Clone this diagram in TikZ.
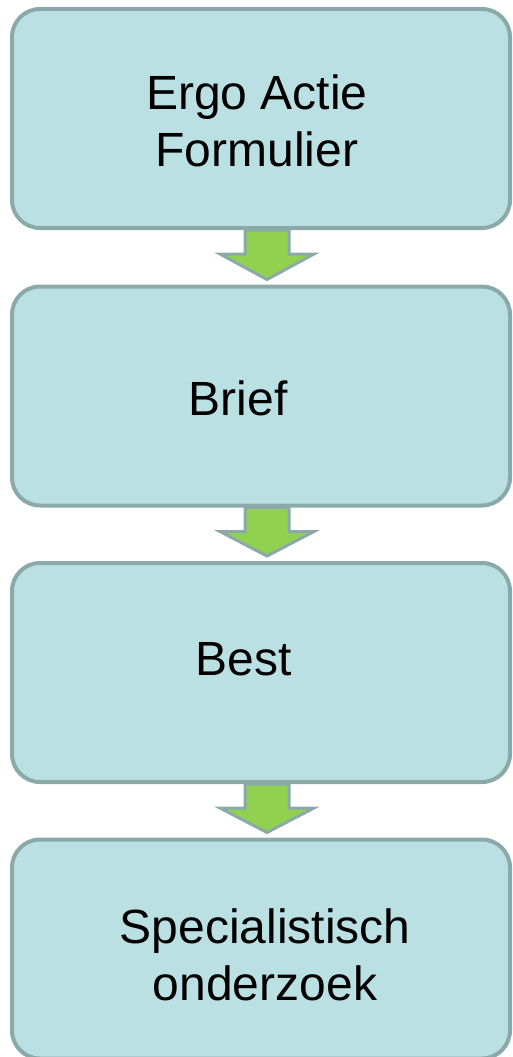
\documentclass[tikz,border=0pt]{standalone}
\usepackage{fontspec}
\setmainfont{Liberation Sans}
\usetikzlibrary{calc,backgrounds}
\definecolor{boxfill}{HTML}{BBE0E3}
\definecolor{boxline}{HTML}{8BA9A9}
\definecolor{arrfill}{HTML}{92D050}
\tikzset{
  stepbox/.style={draw=boxline, fill=boxfill, line width=4pt, rounded corners=28pt,
    minimum width=498pt, minimum height=219pt, inner sep=0pt,
    font=\fontsize{48}{57}\selectfont},
  flowarr/.style={draw=boxline, fill=arrfill, line width=3pt, line join=miter}
}
% #1 horizontal shift, #2 baseline of last line relative to centre, #3 lines
\newcommand\placetext[3]{%
  \raisebox{#2}[0pt][0pt]{\makebox[0pt]{\hspace*{#1}\hspace*{#1}%
    \begin{tabular}[b]{@{}c@{}}#3\end{tabular}}}}
\newcommand\myflowarrow[2]{%
  \begin{scope}[on background layer]
  \draw[flowarr] let \p1=(#1.south), \p2=(#2.north) in
    ({\x1-16pt},\y1) -- ({\x1-16pt},{\y1-24pt}) -- ({\x1-41pt},{\y1-24pt})
    -- ({\x1+6pt},{\y2+5pt}) -- ({\x1+53pt},{\y1-24pt}) -- ({\x1+28pt},{\y1-24pt})
    -- ({\x1+28pt},\y1) -- cycle;
  \end{scope}}
\begin{document}
\begin{tikzpicture}[x=1pt,y=1pt]
\useasboundingbox (0,0) rectangle (512,-1057);
\node[stepbox] (b1) at (261,-118.5) {\placetext{-4pt}{-47.5pt}{Ergo Actie\\Formulier}};
\node[stepbox] (b2) at (261,-396) {\placetext{-23pt}{-19pt}{Brief}};
\node[stepbox] (b3) at (261,-672.5) {\placetext{-17pt}{-2.5pt}{Best}};
\node[stepbox] (b4) at (261,-949) {\placetext{4pt}{-51pt}{Specialistisch\\onderzoek}};
\myflowarrow{b1}{b2}
\myflowarrow{b2}{b3}
\myflowarrow{b3}{b4}
\end{tikzpicture}
\end{document}
